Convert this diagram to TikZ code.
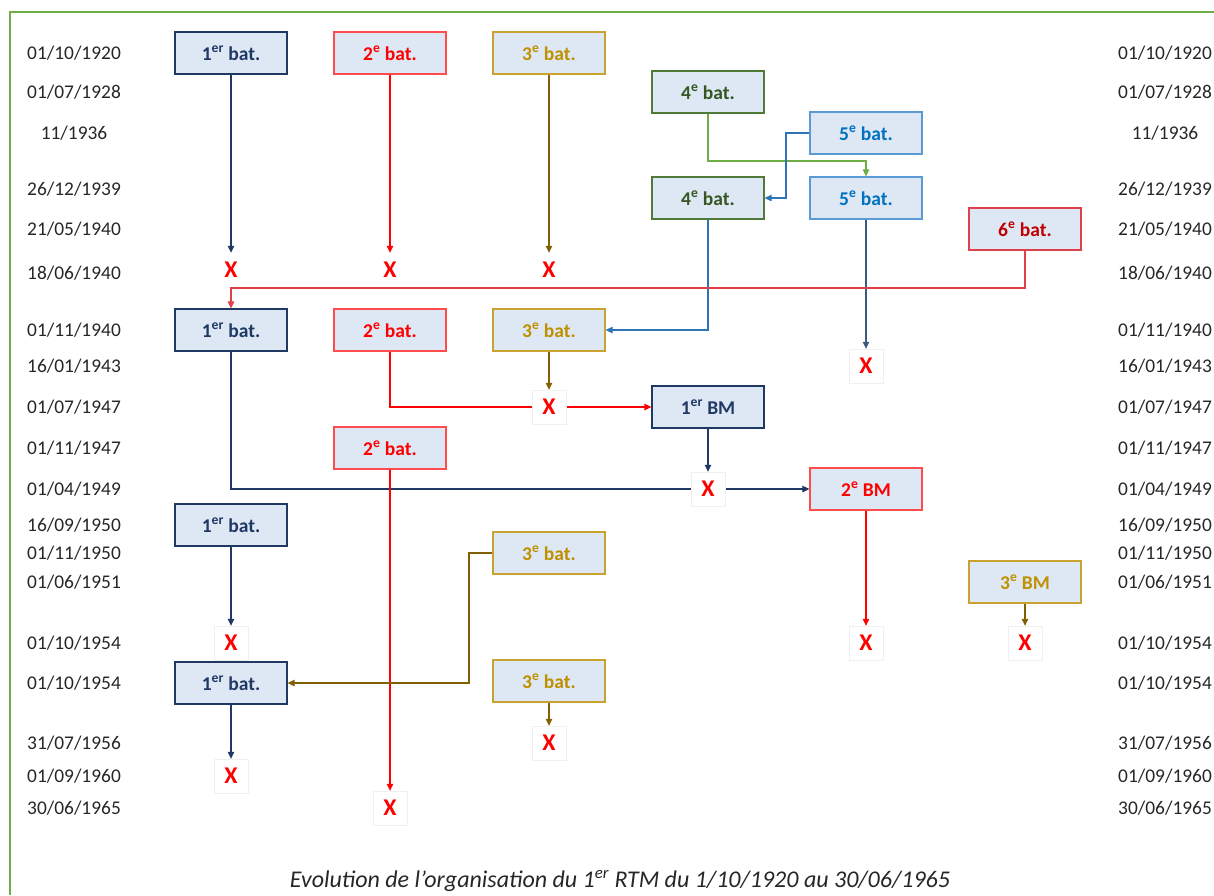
\documentclass[tikz,border=0pt]{standalone}
\usepackage{fontspec}
\setmainfont{Carlito}
\usetikzlibrary{arrows.meta}
\definecolor{boxfill}{HTML}{DDE8F4}
\definecolor{navy}{HTML}{1F3864}
\definecolor{rtred}{HTML}{FF0000}
\definecolor{redborder}{HTML}{FF4B4B}
\definecolor{darkred}{HTML}{C00000}
\definecolor{darkredborder}{HTML}{E0404A}
\definecolor{goldtext}{HTML}{BF9000}
\definecolor{goldborder}{HTML}{C9A230}
\definecolor{oliveline}{HTML}{806000}
\definecolor{greentext}{HTML}{375623}
\definecolor{greenborder}{HTML}{4F7A38}
\definecolor{greenline}{HTML}{70AD47}
\definecolor{bluetext}{HTML}{0070C0}
\definecolor{blueborder}{HTML}{5B9BD5}
\definecolor{blueline}{HTML}{2E75B6}
\definecolor{steelline}{HTML}{3A5A80}
\definecolor{framegreen}{HTML}{70AD47}
\pgfdeclarelayer{background}
\pgfsetlayers{background,main}
\tikzset{
  box/.style={draw, fill=boxfill, minimum width=112, minimum height=42, inner sep=0, line width=1.2,
    font=\bfseries\fontsize{19.5}{21}\selectfont},
  navybox/.style={box, draw=navy, text=navy},
  redbox/.style={box, draw=redborder, text=rtred},
  darkredbox/.style={box, draw=darkredborder, text=darkred},
  goldbox/.style={box, draw=goldborder, text=goldtext},
  greenbox/.style={box, draw=greenborder, text=greentext},
  bluebox/.style={box, draw=blueborder, text=bluetext},
  xm/.style={draw=black!6, fill=white, minimum width=34, minimum height=34, inner sep=0, text=rtred,
    font=\bfseries\fontsize{24}{25}\selectfont},
  xplain/.style={xm, draw=none, fill=none},
  datel/.style={font=\fontsize{19.4}{21}\selectfont, text=black!85},
  conn/.style={line width=1.1, -{Triangle[length=7,width=6.5]}},
  navyc/.style={conn, draw=navy},
  redc/.style={conn, draw=rtred},
  darkredc/.style={conn, draw=darkredborder},
  olivec/.style={conn, draw=oliveline},
  greenc/.style={conn, draw=greenline},
  bluec/.style={conn, draw=blueline},
  steelc/.style={conn, draw=steelline},
}
\newcommand{\er}{\textsuperscript{er}}
\newcommand{\ee}{\textsuperscript{e}}
\begin{document}
\begin{tikzpicture}[x=1pt,y=-1pt]
\useasboundingbox (0,0) rectangle (1214,895);
\draw[framegreen, line width=2.7] (1214,12) -- (10,12) -- (10,895);

% dates
\foreach \n/\y/\t in {1/53/01\slash 10\slash 1920, 2/92/01\slash 07\slash 1928, 3/133/11\slash 1936,
  4/189/26\slash 12\slash 1939, 5/229/21\slash 05\slash 1940, 6/273/18\slash 06\slash 1940,
  7/330/01\slash 11\slash 1940, 8/366/16\slash 01\slash 1943, 9/407/01\slash 07\slash 1947,
  10/448/01\slash 11\slash 1947, 11/489/01\slash 04\slash 1949, 12/525/16\slash 09\slash 1950,
  13/553/01\slash 11\slash 1950, 14/582/01\slash 06\slash 1951, 15/643/01\slash 10\slash 1954,
  16/683/01\slash 10\slash 1954, 17/743/31\slash 07\slash 1956, 18/776/01\slash 09\slash 1960,
  19/808/30\slash 06\slash 1965}{
  \node[datel] (dL\n) at (74,\y) {\t};
  \node[datel] (dR\n) at (1165,\y) {\t};
}

% boxes
\node[navybox] (b1a) at (231,53) {1\er{} bat.};
\node[redbox] (b2a) at (390,53) {2\ee{} bat.};
\node[goldbox] (b3a) at (549,53) {3\ee{} bat.};
\node[greenbox] (b4a) at (708,92) {4\ee{} bat.};
\node[bluebox] (b5a) at (866,133) {5\ee{} bat.};
\node[greenbox] (b4b) at (708,198) {4\ee{} bat.};
\node[bluebox] (b5b) at (866,198) {5\ee{} bat.};
\node[darkredbox] (b6) at (1025,229) {6\ee{} bat.};
\node[navybox] (b1b) at (231,330) {1\er{} bat.};
\node[redbox] (b2b) at (390,330) {2\ee{} bat.};
\node[goldbox] (b3b) at (549,330) {3\ee{} bat.};
\node[navybox] (bm1) at (708,407) {1\er{} BM};
\node[redbox] (b2c) at (390,448) {2\ee{} bat.};
\node[redbox] (bm2) at (866,489) {2\ee{} BM};
\node[navybox] (b1c) at (231,525) {1\er{} bat.};
\node[goldbox] (b3c) at (549,553) {3\ee{} bat.};
\node[goldbox] (bm3) at (1025,582) {3\ee{} BM};
\node[navybox] (b1d) at (231,683) {1\er{} bat.};
\node[goldbox] (b3d) at (549,681) {3\ee{} bat.};

% X marks
\node[xplain] (x1a) at (231,270) {X};
\node[xplain] (x2a) at (390,270) {X};
\node[xplain] (x3a) at (549,270) {X};
\node[xm] (x5b) at (866,366) {X};
\node[xm] (x3b) at (549,407) {X};
\node[xm] (x4c) at (708,489) {X};
\node[xm] (x1c) at (231,643) {X};
\node[xm] (x5c) at (866,643) {X};
\node[xm] (x6c) at (1025,643) {X};
\node[xm] (x3d) at (549,743) {X};
\node[xm] (x1d) at (231,776) {X};
\node[xm] (x2d) at (390,808) {X};

% helper coordinates
\coordinate (g1) at (708,161);
\coordinate (c1) at (786,198);
\coordinate (c2) at (1025,288);
\coordinate (c4) at (469,553);

\begin{pgfonlayer}{background}
\draw[navyc] (b1a) -- (x1a);
\draw[redc] (b2a) -- (x2a);
\draw[olivec] (b3a) -- (x3a);
\draw[greenc] (b4a.south) -- (g1) -| (b5b.north);
\draw[bluec] (b5a.west) -| (c1) -- (b4b.east);
\draw[bluec] (b4b.south) |- (b3b.east);
\draw[steelc] (b5b) -- (x5b);
\draw[darkredc] (b6.south) -- (c2) -| (b1b.north);
\draw[olivec] (b3b) -- (x3b);
\draw[redc] (b2b.south) |- (bm1.west);
\draw[navyc] (bm1) -- (x4c);
\draw[navyc] (b1b.south) |- (bm2.west);
\draw[redc] (b2c) -- (x2d);
\draw[redc] (bm2) -- (x5c);
\draw[navyc] (b1c) -- (x1c);
\draw[olivec] (b3c.west) -- (c4) |- (b1d.east);
\draw[olivec] (bm3) -- (x6c);
\draw[navyc] (b1d) -- (x1d);
\draw[olivec] (b3d) -- (x3d);
\end{pgfonlayer}

\node[font=\itshape\fontsize{24}{26}\selectfont, text=black!85] (cap) at (620,881)
  {Evolution de l’organisation du 1\er{} RTM du 1/10/1920 au 30/06/1965};
\end{tikzpicture}
\end{document}
